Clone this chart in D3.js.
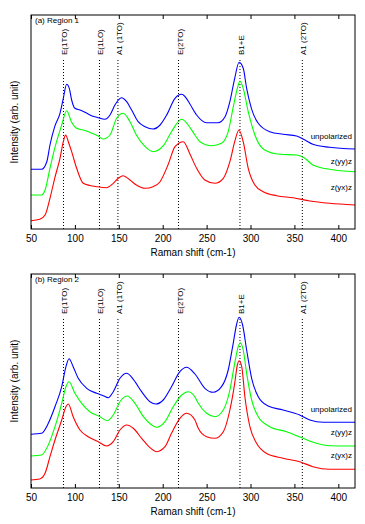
<!DOCTYPE html>
<html>
<head>
<meta charset="utf-8">
<script src="https://cdn.jsdelivr.net/npm/d3@7"></script>
<style>
  body { margin: 0; background: #fff; }
  text { font-family: Arial, "Liberation Sans", sans-serif; fill: #000; }
</style>
</head>
<body>
<svg id="raman_chart"></svg>
<script>
let width = 365
let height = 524

// x tick values (Raman shift, cm-1)
const xTicks = [50, 100, 150, 200, 250, 300, 350, 400]

// phonon mode positions and labels
const modePositions = [87, 128, 149, 218, 288, 359]
const modeLabels = ["E(1TO)", "E(1LO)", "A1 (1TO)", "E(2TO)", "B1+E", "A1 (2TO)"]

const seriesNames = ["unpolarized", "z(yy)z", "z(yx)z"]
const seriesColors = ["#0000ff", "#00ff00", "#ff0000"]

// Region 1 spectra [shift, intensity (arb.)]
const region1Unpolarized = [[50,59.7],[62,59.7],[68,67.3],[71.6,84],[77,102.3],[83,115.7],[86.8,130.7],[90.6,144.7],[93.6,140.7],[96.3,129],[100,120.7],[105.8,119],[111.5,116.7],[119,113.3],[126.6,111.3],[134,109.7],[140,114],[145.6,124],[153,131.3],[159,127.3],[164.6,119],[172,107.3],[180,102.3],[189,100],[197,104],[204.5,114],[214,130.7],[221.6,134.7],[227,130.7],[231,125],[238.6,114],[250,106.3],[263,106.3],[271,112.3],[276.5,127.3],[282,150.7],[287,166.7],[291.7,160.7],[295.6,140.7],[301,120.7],[308.8,105.7],[322,97.3],[337,94.7],[352.5,93],[362,89],[371,84.7],[390,81.7],[419,80]]
const region1ZYY = [[50,34],[62,34],[66,39],[71.6,60.7],[77,80.7],[85,104],[90.6,118.3],[96,107.3],[102,100.7],[109.5,99],[117,96.7],[126.6,93],[132,90],[140,94],[147.5,110.7],[155,115.7],[162.7,107.3],[170,94],[180,82.3],[189,77.3],[200.7,83.3],[210,97.3],[221.6,109.7],[229,104],[236.7,94],[242.4,87.3],[255.7,83.3],[267,85.7],[274.6,97.3],[280,120.7],[285,140.7],[288,148],[291.7,140.7],[297.4,117.3],[305,94],[316,79],[333.5,74.7],[352.5,74],[362,70.7],[371,64],[390,59.7],[419,57.3]]
const region1ZYX = [[50,8.3],[60,9.7],[66,14],[71.6,30.7],[77,50.7],[83,70.7],[86.8,87.3],[89.5,94],[92.5,87.3],[96.3,77.3],[102,60.7],[109.5,45.7],[117,43.5],[124.8,42.3],[136,41.3],[143.7,45.7],[149.4,50.7],[155,53.3],[162.7,49],[170,44],[180,40.7],[189,42.3],[197,47.3],[206,64],[214,82.3],[223.4,87.3],[231,75],[238.6,60.7],[248,49],[259.5,45.7],[269,50.7],[276.5,67.3],[282,87.3],[286.8,99],[291.7,87.3],[297.4,60.7],[305,44],[314.5,37.3],[329.7,33.3],[348.6,31.3],[367.6,28],[390,25.7],[419,24]]

// Region 2 spectra
const region2Unpolarized = [[50,53.7],[62,54.7],[69.7,64.7],[77.3,81.3],[85,101.3],[89.8,121.3],[93.3,129.3],[98,121.3],[103.8,109.7],[113.4,99.7],[124.8,94.7],[132.3,92.3],[138,90.3],[143.7,96.3],[151.3,109.7],[159,114.7],[166.5,108.7],[176,96.3],[185.5,86.3],[192.3,84],[200.6,88],[210,101.3],[219.6,116.3],[227.2,120.7],[236.7,114],[248,99.7],[257.5,95.7],[267,101.3],[274.6,118],[280.3,144.7],[284,163],[287,170.7],[291,163],[295.6,138],[301.3,109.7],[308.8,91.3],[320,82],[337,78],[356,73],[367.6,68],[382.8,65.7],[419,65.7]]
const region2ZYY = [[50,32],[62,33],[69.7,43],[77.3,61.3],[85,84.7],[89.8,101.3],[93.3,106.3],[100,94.7],[107.7,84.7],[117,76.3],[128.5,71.3],[136.9,67.3],[143.7,73],[151.3,86.3],[159.6,92],[168.4,84.7],[178,71.3],[187.4,63],[193,60.7],[202.6,66.3],[212,81.3],[221.6,93],[229,96.3],[236.7,91],[240.5,84.7],[250,74.7],[259.5,71.3],[269,78],[276.5,98],[282,124.7],[286,141.3],[288.3,145.3],[291.7,138],[295.6,114.7],[301.3,88],[308.8,71.3],[322,61.3],[341,56.3],[360,49.7],[375,44.7],[390,42.3],[419,42]]
const region2ZYX = [[50,8],[60,9],[66,14.7],[71.6,31.3],[77.3,48],[85,68],[89.8,81.3],[92.5,84],[98,71.3],[105.8,58],[115,51.3],[126.6,46.3],[136,42],[143.7,46.3],[151.3,58],[159,63],[166.5,59.7],[176,49.7],[185.5,40.3],[193,36.3],[202.6,41.3],[210,54.7],[219.6,69.7],[227.2,74.7],[236.7,68],[240.5,59.7],[250,51.3],[259.5,49.7],[269,56.3],[276.5,78],[282,104.7],[285,123],[287,127.3],[290,121.3],[293.6,91.3],[299.3,61.3],[306.9,44.7],[318,34.7],[337,29.7],[356,26.3],[371,21.3],[390,18.7],[419,18.7]]

let panels = [
    { title: "(a) Region 1", top: 15, series: [region1Unpolarized, region1ZYY, region1ZYX], labelY: [124, 149, 175] },
    { title: "(b) Region 2", top: 274, series: [region2Unpolarized, region2ZYY, region2ZYX], labelY: [138, 161, 184] }
]

let margin = {left: 31, right: 10}
let panelHeight = 214

let xScale = d3.scaleLinear().domain([50, 419]).range([margin.left, width - margin.right])

let svg = d3.select("#raman_chart")
    .attr("width", width)
    .attr("height", height)

panels.forEach(p => {
    let yScale = d3.scaleLinear().domain([0, panelHeight]).range([p.top + panelHeight, p.top])
    let g = svg.append("g")

    // clip so lines stay in the frame
    let clipId = "clip" + p.top
    svg.append("clipPath").attr("id", clipId)
        .append("rect")
        .attr("x", xScale(50)).attr("y", p.top)
        .attr("width", xScale(419) - xScale(50)).attr("height", panelHeight)

    // dotted mode lines
    g.selectAll(".mode")
        .data(modePositions)
        .enter()
        .append("line")
        .attr("x1", d => xScale(d))
        .attr("x2", d => xScale(d))
        .attr("y1", p.top + 45)
        .attr("y2", p.top + panelHeight)
        .attr("stroke", "#000")
        .attr("stroke-width", 1)
        .attr("stroke-dasharray", "1,2")

    g.selectAll(".modeLabel")
        .data(modeLabels)
        .enter()
        .append("text")
        .text(d => d)
        .attr("font-size", 8)
        .attr("text-anchor", "start")
        .attr("transform", (d, i) => "translate(" + (xScale(modePositions[i]) + 4) + "," + (p.top + 40) + ") rotate(-90)")

    // spectra
    let line = d3.line()
        .x(d => xScale(d[0]))
        .y(d => yScale(d[1]))
        .curve(d3.curveMonotoneX)

    g.append("g").attr("clip-path", "url(#" + clipId + ")")
        .selectAll(".spectrum")
        .data(p.series)
        .enter()
        .append("path")
        .attr("d", line)
        .attr("fill", "none")
        .attr("stroke", (d, i) => seriesColors[i])
        .attr("stroke-width", 1.1)

    g.selectAll(".seriesLabel")
        .data(seriesNames)
        .enter()
        .append("text")
        .text(d => d)
        .attr("font-size", 8)
        .attr("text-anchor", "end")
        .attr("x", 352)
        .attr("y", (d, i) => p.top + p.labelY[i])

    // frame
    g.append("rect")
        .attr("x", xScale(50))
        .attr("y", p.top)
        .attr("width", xScale(419) - xScale(50))
        .attr("height", panelHeight)
        .attr("fill", "none")
        .attr("stroke", "#000")
        .attr("stroke-width", 1)

    // axes
    let xAxis = g.append("g")
        .attr("transform", "translate(0," + (p.top + panelHeight) + ")")
        .call(d3.axisBottom(xScale).tickValues(xTicks).tickSizeInner(-4).tickSizeOuter(0).tickPadding(6))
    xAxis.select(".domain").remove()
    xAxis.selectAll("text").attr("font-size", 10).attr("font-family", "Arial, 'Liberation Sans', sans-serif")

    let topAxis = g.append("g")
        .attr("transform", "translate(0," + p.top + ")")
        .call(d3.axisTop(xScale).tickValues(xTicks).tickSizeInner(-4).tickSizeOuter(0).tickFormat(""))
    topAxis.select(".domain").remove()

    g.append("text")
        .text("Raman shift (cm-1)")
        .attr("font-size", 10)
        .attr("text-anchor", "middle")
        .attr("x", (xScale(50) + xScale(419)) / 2)
        .attr("y", p.top + panelHeight + 27)

    g.append("text")
        .text("Intensity (arb. unit)")
        .attr("font-size", 10)
        .attr("text-anchor", "middle")
        .attr("transform", "translate(18," + (p.top + panelHeight / 2) + ") rotate(-90)")

    g.append("text")
        .text(p.title)
        .attr("font-size", 8)
        .attr("x", 35)
        .attr("y", p.top + 8)
})
</script>
</body>
</html>
